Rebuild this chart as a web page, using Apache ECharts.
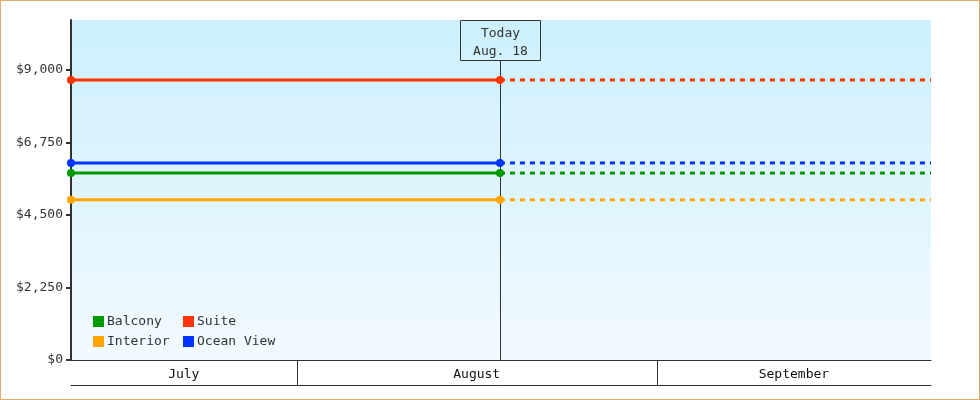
<!DOCTYPE html>
<html>
<head>
<meta charset="utf-8">
<script src="https://cdn.jsdelivr.net/npm/echarts@6/dist/echarts.min.js"></script>
<style>
html, body { margin: 0; padding: 0; background: #fff; }
#chart { width: 980px; height: 400px; box-sizing: border-box; border: 1px solid #e9ab6b; }
</style>
</head>
<body>
<div id="chart"></div>
<script type="text/javascript">
// days counted from July 1 (= 0)
var months = ['July', 'August', 'September'];
var monthStart = [0, 31, 62];
var monthEnd = [31, 62, 92];
var todayDay = 48.5;
var viewStart = 11.59;
var viewEnd = 85.59;
var todayText = 'Today\nAug. 18';

var cabins = ['Balcony', 'Suite', 'Interior', 'Ocean View'];
var prices = [5800, 8690, 4970, 6115];
var cabinColors = ['#009900', '#ff3300', '#ffa500', '#0033ff'];

var yTicks = [0, 2250, 4500, 6750, 9000];
var yMax = 10550;

var FONT = '"DejaVu Sans Mono", monospace';

var chart = echarts.init(document.getElementById('chart'));

var series = [];
cabins.forEach(function (name, i) {
    series.push({
        name: name,
        type: 'line',
        xAxisIndex: 0, yAxisIndex: 0,
        data: [[viewStart, prices[i]], [todayDay, prices[i]]],
        symbol: 'circle',
        symbolSize: 8,
        color: cabinColors[i],
        lineStyle: { width: 3, color: cabinColors[i] },
        itemStyle: { color: cabinColors[i] },
        z: 3
    });
    series.push({
        name: name + ' forecast',
        type: 'line',
        xAxisIndex: 0, yAxisIndex: 0,
        data: [[todayDay, prices[i]], [viewEnd, prices[i]]],
        showSymbol: false,
        symbol: 'none',
        lineStyle: { width: 3, type: [5, 5], color: cabinColors[i] },
        z: 2
    });
});

// today marker with its label box
series.push({
    type: 'custom',
    xAxisIndex: 0, yAxisIndex: 0,
    data: [[todayDay]],
    silent: true,
    z: 1,
    renderItem: function (params, api) {
        var cs = params.coordSys;
        var x = Math.round(api.coord([api.value(0), 0])[0]) + 0.5;
        var boxH = 40, boxW = 80;
        return {
            type: 'group',
            children: [
                { type: 'line', shape: { x1: x, y1: cs.y + boxH, x2: x, y2: cs.y + cs.height },
                  style: { stroke: '#333', lineWidth: 1 } },
                { type: 'rect', shape: { x: x - boxW / 2, y: cs.y + 0.5, width: boxW, height: boxH },
                  style: { fill: 'transparent', stroke: '#333', lineWidth: 1 } },
                { type: 'text', x: x, y: cs.y + boxH / 2 + 3,
                  style: { text: todayText, font: '13px ' + FONT, fill: '#333',
                           align: 'center', verticalAlign: 'middle', lineHeight: 18 } }
            ]
        };
    }
});

// month bands under the plot
series.push({
    type: 'custom',
    xAxisIndex: 1, yAxisIndex: 1,
    data: months.map(function (m, i) { return [monthStart[i], monthEnd[i], i]; }),
    silent: true,
    renderItem: function (params, api) {
        var cs = params.coordSys;
        var s = Math.max(api.value(0), viewStart);
        var e = Math.min(api.value(1), viewEnd);
        var x0 = api.coord([s, 0])[0];
        var x1 = api.coord([e, 0])[0];
        var children = [];
        if (api.value(0) > viewStart) {
            var lx = Math.round(x0) + 0.5;
            children.push({ type: 'line', shape: { x1: lx, y1: cs.y, x2: lx, y2: cs.y + cs.height },
                            style: { stroke: '#333', lineWidth: 1 } });
        }
        children.push({ type: 'text', x: (x0 + x1) / 2, y: cs.y + cs.height / 2 + 2,
            style: { text: months[api.value(2)], font: '13px ' + FONT, fill: '#111',
                     align: 'center', verticalAlign: 'middle' } });
        return { type: 'group', children: children };
    }
});

var option = {
    animation: false,
    textStyle: { fontFamily: FONT },
    grid: [
        { left: 70, right: 48, top: 19, bottom: 39, show: true, borderWidth: 0,
          backgroundColor: new echarts.graphic.LinearGradient(0, 0, 0, 1, [
              { offset: 0, color: '#ccf0fd' },
              { offset: 1, color: '#f2faff' }
          ]) },
        { left: 70, right: 48, top: 359, height: 25 }
    ],
    xAxis: [
        { type: 'value', gridIndex: 0, min: viewStart, max: viewEnd,
          axisLine: { show: true, lineStyle: { color: '#333', width: 1 } },
          axisTick: { show: false }, axisLabel: { show: false }, splitLine: { show: false } },
        { type: 'value', gridIndex: 1, min: viewStart, max: viewEnd, position: 'bottom',
          axisLine: { show: true, lineStyle: { color: '#333', width: 1 } },
          axisTick: { show: false }, axisLabel: { show: false }, splitLine: { show: false } }
    ],
    yAxis: [
        { type: 'value', gridIndex: 0, min: 0, max: yMax, interval: 2250,
          axisLine: { show: true, lineStyle: { color: '#333', width: 2 } },
          axisTick: { show: true, length: 5, customValues: yTicks, lineStyle: { color: '#333', width: 2 } },
          axisLabel: { customValues: yTicks, color: '#333', fontSize: 13, fontFamily: FONT, margin: 8,
                       formatter: function (v) { return '$' + v.toLocaleString('en-US'); } },
          splitLine: { show: false } },
        { type: 'value', gridIndex: 1, min: 0, max: 1, show: false }
    ],
    legend: [
        { data: [cabins[0], cabins[2]], orient: 'vertical', left: 92, top: 314, padding: 0,
          itemWidth: 11, itemHeight: 11, itemGap: 7, icon: 'rect',
          textStyle: { fontSize: 13, fontFamily: FONT, color: '#333', padding: [0, 0, 0, -2] } },
        { data: [cabins[1], cabins[3]], orient: 'vertical', left: 182, top: 314, padding: 0,
          itemWidth: 11, itemHeight: 11, itemGap: 7, icon: 'rect',
          textStyle: { fontSize: 13, fontFamily: FONT, color: '#333', padding: [0, 0, 0, -2] } }
    ],
    series: series
};

chart.setOption(option);
</script>
</body>
</html>
